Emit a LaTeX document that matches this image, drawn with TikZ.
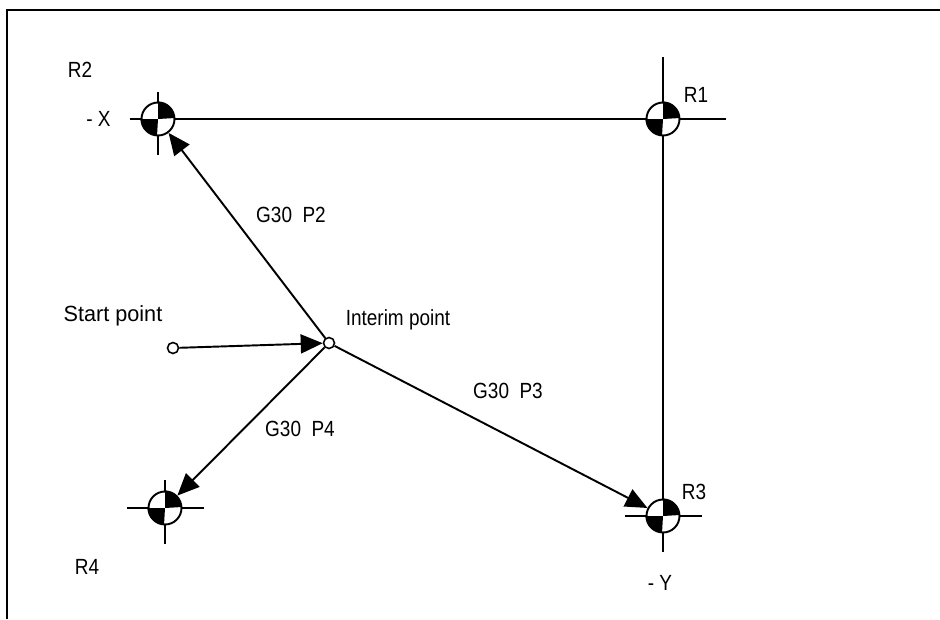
\documentclass[tikz,border=0pt]{standalone}
\usepackage{fontspec}
\setmainfont{Liberation Sans}
\usetikzlibrary{arrows.meta}
\tikzset{
  lbl/.style={inner sep=0pt, anchor=base, xscale=1.08, yscale=1.25},
  thinline/.style={line width=1.1pt},
  pathline/.style={line width=1.1pt, -{Triangle[length=0.44cm,width=0.38cm]}},
  markpt/.style={circle, draw, line width=0.9pt, fill=white, inner sep=0pt, minimum size=0.22cm},
  refpt/.style={circle, draw, line width=1.1pt, fill=white, inner sep=0pt, minimum size=0.66cm}
}
\begin{document}
\begin{tikzpicture}[x=0.02cm,y=-0.02cm]
  \useasboundingbox (0,0) rectangle (940,619);

  % ---------------- frame ----------------
  \draw[line width=1.1pt] (7,619) -- (7,10) -- (940,10);

  % ---------------- cross hairs ----------------
  \draw[thinline] (130,119) -- (726,119);
  \draw[thinline] (663,57) -- (663,552);
  \draw[thinline] (158,92) -- (158,155);
  \draw[thinline] (625,516) -- (702,516);
  \draw[thinline] (127,508) -- (204,508);
  \draw[thinline] (165,480) -- (165,544);

  % ---------------- reference points ----------------
  \node[refpt] (r1) at (663,119) {};
  \node[refpt] (r2) at (158,119) {};
  \node[refpt] (r3) at (663,516) {};
  \node[refpt] (r4) at (165,508) {};
  \foreach \p in {r1,r2,r3,r4} {
    % y runs downward here, so 270 is the top of the disc
    \fill (\p.center) -- (\p.north) arc (270:360:16.5) -- cycle;
    \fill (\p.center) -- (\p.west) arc (180:90:16.5) -- cycle;
  }

  % ---------------- moves ----------------
  \node[markpt] (start) at (173,348) {};
  \node[markpt] (interim) at (329,343) {};
  \draw[pathline] (start) -- (interim);
  \draw[pathline] (interim) -- (r2);
  \draw[pathline] (interim) -- (r3);
  \draw[pathline] (interim) -- (r4);

  % ---------------- labels ----------------
  \node[lbl] (lr1) at (696,102) {R1};
  \node[lbl] (lr2) at (80,77) {R2};
  \node[lbl] (lr3) at (694,499) {R3};
  \node[lbl] (lr4) at (87,574) {R4};
  \node[lbl] (lx) at (98.5,126) {- X};
  \node[lbl] (ly) at (660,590) {- Y};
  \node[lbl, xscale=1.14] (lstart) at (113,321) {Start point};
  \node[lbl] (linterim) at (398,325) {Interim point};
  \node[lbl] (lp2) at (291,222) {G30~~P2};
  \node[lbl] (lp3) at (508,398) {G30~~P3};
  \node[lbl] (lp4) at (300,436) {G30~~P4};
\end{tikzpicture}
\end{document}
